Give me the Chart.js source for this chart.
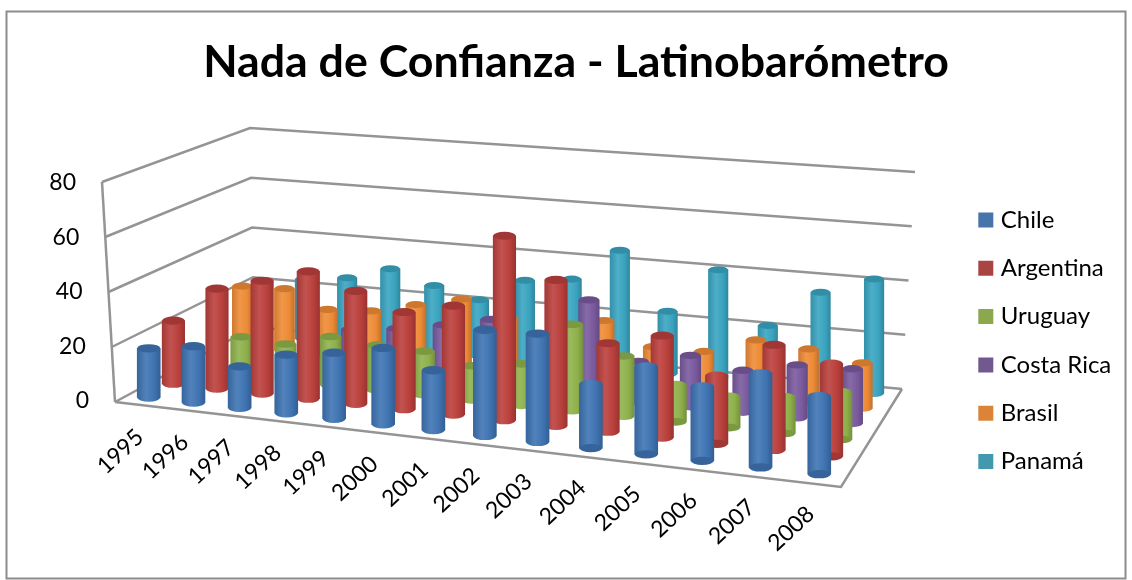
<!DOCTYPE html>
<html><head><meta charset="utf-8">
<style>html,body{margin:0;padding:0;background:#fff}canvas{display:block}</style>
<script src="https://cdn.jsdelivr.net/npm/chart.js@4"></script>
</head><body><canvas id="c" width="1132" height="580"></canvas>
<script>
const categories=['1995','1996','1997','1998','1999','2000','2001','2002','2003','2004','2005','2006','2007','2008'];
const tickValues=[0,20,40,60,80];
const chile=[18,20.5,15,21,23.5,27,21,37,37.5,22,30,25.2,31.5,26];
const argentina=[23.5,37,41.5,46.5,41,35,39,65.5,51.5,31,35.5,23.5,36,31.5];
const uruguay=[null,14.5,13.5,18,16.5,16,12.5,15,31,21.5,13.2,11,12.8,16.5];
const costaRica=[null,null,null,16,18,21,24.7,15,35.2,14.5,18.5,15,18.8,19.3];
const brasil=[23.5,24,17.5,18.5,22.5,26.2,20.5,20,23,15,15,21,19.5,16.3];
const panama=[null,23.5,25.5,30.5,25.5,21.5,30.5,32.5,45,23.5,40.7,21.5,35.5,42];
const seriesNames=['Chile','Argentina','Uruguay','Costa Rica','Brasil','Panamá'];
const seriesValues=[chile,argentina,uruguay,costaRica,brasil,panama];
const seriesColors=['#3f74b3','#bb403c','#8fb24c','#7a5a9e','#ee8b36','#3aa5c1'];
const legendColors=['#4674ab','#a94442','#8ba84d','#71588f','#db8438','#4198af'];
const rowWidths=[23,22.5,21,20.5,20,19.5];
const titleText='Nada de Confianza - Latinobarómetro';

// projection of the 3-D box onto the page
function homography(q){
  const [p0,p1,p2,p3]=q;
  const dx1=p1[0]-p2[0],dx2=p3[0]-p2[0],sx=p0[0]-p1[0]+p2[0]-p3[0];
  const dy1=p1[1]-p2[1],dy2=p3[1]-p2[1],sy=p0[1]-p1[1]+p2[1]-p3[1];
  const den=dx1*dy2-dx2*dy1;
  const g=(sx*dy2-dx2*sy)/den,h=(dx1*sy-sx*dy1)/den;
  const a=p1[0]-p0[0]+g*p1[0],b=p3[0]-p0[0]+h*p3[0],c=p0[0];
  const d=p1[1]-p0[1]+g*p1[1],e=p3[1]-p0[1]+h*p3[1],f=p0[1];
  return (u,v)=>{const w=g*u+h*v+1;return [(a*u+b*v+c)/w,(d*u+e*v+f)/w];};
}
const floorH=homography([[115,402],[841,487],[902,389],[254,327]]);
const ceilH=homography([[102,182],[857,243],[915,172],[250,128]]);
function project(u,d,v){
  const a=floorH(u,d),b=ceilH(u,d),t=v/80;
  return [a[0]+(b[0]-a[0])*t,a[1]+(b[1]-a[1])*t];
}
const Y0=401,YS=2.725;
const toY=py=>(Y0-py)/YS;

function shade(hex,f){
  const n=parseInt(hex.slice(1),16);
  const c=[n>>16,(n>>8)&255,n&255].map(x=>Math.max(0,Math.min(255,Math.round(f>1?x+(255-x)*(f-1):x*f))));
  return `rgb(${c[0]},${c[1]},${c[2]})`;
}
function cylGradient(ctx,x,w,col){
  const g=ctx.createLinearGradient(x-w/2,0,x+w/2,0);
  g.addColorStop(0,shade(col,.88));
  g.addColorStop(.38,shade(col,1.1));
  g.addColorStop(.75,shade(col,.99));
  g.addColorStop(1,shade(col,.82));
  return g;
}

const datasets=seriesNames.map((name,i)=>{
  const d=(i+.5)/6,data=[];
  seriesValues[i].forEach((v,k)=>{
    if(v===null)return;
    const u=(k+.5)/categories.length,b=project(u,d,0),t=project(u,d,v);
    data.push({x:(b[0]+t[0])/2,y:[toY(b[1]),toY(t[1])]});
  });
  return {label:name,data,barThickness:rowWidths[i],grouped:false,borderWidth:0,
    backgroundColor(c){
      const col=seriesColors[i];
      if(!c.parsed||!c.chart.chartArea)return col;
      const px=c.chart.scales.x.getPixelForValue(c.parsed.x);
      return cylGradient(c.chart.ctx,px,rowWidths[i],col);
    }};
});

const place={id:'place',afterLayout(ch){
  const lg=ch.legend;
  lg.left=958.5;lg.top=183.7;
}};
const frame={id:'frame',beforeDraw(ch){
  const c=ch.ctx;c.save();c.strokeStyle='#8c8c8c';c.lineWidth=2;c.strokeRect(6.5,11.5,1119,567);c.restore();
  // tick labels follow the slanted front edge of the left wall
  const items=ch.scales.y.getLabelItems(ch.chartArea);
  items.forEach((it,i)=>{it.options.translation[0]=project(0,0,tickValues[i])[0]-26;});
}};
const walls={id:'walls',beforeDatasetsDraw(ch){
  const c=ch.ctx,X=ch.scales.x,Y=ch.scales.y;
  const P=(u,d,v)=>{const p=project(u,d,v);return [X.getPixelForValue(p[0]),Y.getPixelForValue(toY(p[1]))];};
  const seg=(pts)=>{c.beginPath();pts.forEach((p,i)=>i?c.lineTo(p[0],p[1]):c.moveTo(p[0],p[1]));c.stroke();};
  c.save();c.strokeStyle='#949494';c.lineWidth=2.5;
  tickValues.forEach(v=>seg([P(0,0,v),P(0,1,v),P(1,1,v)]));
  seg([P(0,0,0),P(0,0,80)]);
  seg([P(0,0,0),P(1,0,0),P(1,1,0)]);
  c.restore();
},afterDraw(ch){
  const c=ch.ctx,X=ch.scales.x,Y=ch.scales.y;
  c.save();c.fillStyle='#000';c.font='23px Lato';c.textAlign='right';c.textBaseline='middle';
  categories.forEach((lab,k)=>{
    const t=(k+.5)/categories.length,p=floorH(t,0);
    const x=X.getPixelForValue(p[0]+3-3*t),y=Y.getPixelForValue(toY(p[1]+29-2*t));
    c.save();c.translate(x,y);c.rotate(-.75);c.fillText(lab,0,0);c.restore();
  });
  c.restore();
}};
const caps={id:'caps',afterDatasetDraw(ch,args){
  const i=args.index,col=seriesColors[i],c=ch.ctx;
  c.save();
  args.meta.data.forEach(el=>{
    const w=el.width,rx=w/2,ry=w*.18;
    c.fillStyle=cylGradient(c,el.x,w,col);
    c.beginPath();c.ellipse(el.x,el.base,rx,ry,0,0,Math.PI*2);c.fill();
    c.fillStyle=shade(col,.86);
    c.beginPath();c.ellipse(el.x,el.y,rx,ry,0,0,Math.PI*2);c.fill();
  });
  c.restore();
}};

const chart=new Chart(document.getElementById('c'),{
  type:'bar',
  data:{datasets},
  plugins:[place,frame,walls,caps],
  options:{
    responsive:false,animation:false,
    layout:{padding:{left:20,right:0,top:0,bottom:0}},
    plugins:{
      tooltip:{enabled:false},
      title:{display:true,text:titleText,color:'#000',font:{family:'Lato',size:44.7,weight:'bold'},padding:{top:36,bottom:14}},
      legend:{display:true,position:'right',align:'start',
        labels:{color:'#000',font:{family:'Lato',size:24},boxWidth:6,boxHeight:6,padding:24.3,
          generateLabels(ch){
            return Chart.defaults.plugins.legend.labels.generateLabels(ch).map((it,i)=>
              ({...it,fillStyle:legendColors[i],strokeStyle:legendColors[i],lineWidth:9}));
          }}}
    },
    scales:{
      x:{type:'linear',display:false,min:0,max:1000,offset:false},
      y:{type:'linear',min:-50,max:100,position:'left',
        afterFit(s){s.width=75;},
        afterBuildTicks(s){s.ticks=tickValues.map(v=>({value:v}));},
        grid:{display:false},border:{display:false},
        ticks:{color:'#000',font:{family:'Lato',size:23},padding:0,autoSkip:false,maxRotation:0}}
    }
  }
});
const a=chart.chartArea;
chart.options.scales.x.min=a.left;chart.options.scales.x.max=a.right;
chart.options.scales.y.min=toY(a.bottom);chart.options.scales.y.max=toY(a.top);
chart.update('none');
</script></body></html>
